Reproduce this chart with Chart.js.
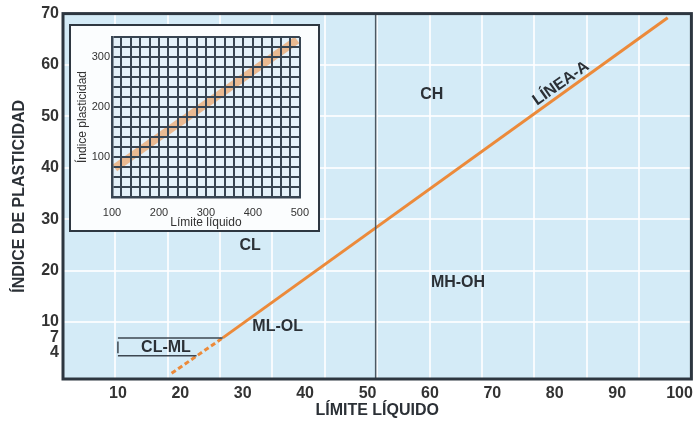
<!DOCTYPE html>
<html>
<head>
<meta charset="utf-8">
<script src="https://cdn.jsdelivr.net/npm/chart.js@4.4.0/dist/chart.umd.min.js"></script>
<style>
  html, body { margin: 0; padding: 0; background: #fff; }
  #contenedor { position: relative; width: 698px; height: 425px; }
  #grafico_plasticidad { position: absolute; left: 0; top: 0; }
  #recuadro { position: absolute; left: 69px; top: 24px; width: 251px; height: 208px;
              box-sizing: border-box; border: 2px solid #2e3741; background: #fbfdfe; }
  #recuadro canvas { position: absolute; left: 0; top: 0; }
</style>
</head>
<body>
<div id="contenedor">
  <canvas id="grafico_plasticidad" width="698" height="425"></canvas>
  <div id="recuadro"><canvas id="grafico_recuadro" width="247" height="204"></canvas></div>
</div>
<script>
// Carta de plasticidad
const ticksLL = [10, 20, 30, 40, 50, 60, 70, 80, 90, 100]
const ticksIP = [4, 7, 10, 20, 30, 40, 50, 60, 70]

// linea A (tramo punteado y tramo continuo)
const lineaAPunteadaLL = [18.6, 26.8]
const lineaAPunteadaIP = [0, 6.9]
const lineaALL = [26.8, 98.1]
const lineaAIP = [6.9, 69.2]

// limite liquido 50 (linea vertical)
const limiteLL = [51.3, 51.3]
const limiteIP = [-1.1, 70]

// zona CL-ML
const clmlSuperiorLL = [10, 26.8]
const clmlSuperiorIP = [6.9, 6.9]
const clmlInferiorLL = [10, 22.6]
const clmlInferiorIP = [3.4, 3.4]
const clmlLadoLL = [10, 10]
const clmlLadoIP = [6.2, 3.9]

// nombres de las zonas
const zonas = ["CL-ML", "ML-OL", "CL", "CH", "MH-OH", "LÍNEA-A"]
const zonasLL = [17.7, 35.6, 31.2, 60.3, 64.5, 81]
const zonasIP = [5.0, 9.0, 24.8, 54.3, 17.6, 56.4]

// recuadro
const recuadroLL = [106, 494]
const recuadroIP = [78, 334]

const fuente = '"Liberation Sans", Arial, sans-serif'
const aPuntos = (xs, ys) => xs.map((v, i) => ({ x: v, y: ys[i] }))

const linea = (xs, ys, color, ancho, guiones) => ({
    data: aPuntos(xs, ys),
    showLine: true,
    borderColor: color,
    borderWidth: ancho,
    borderDash: guiones || [],
    pointRadius: 0,
    fill: false
})

const fondoYMarco = {
    id: 'fondoYMarco',
    beforeDraw(chart) {
        const { ctx, chartArea: a } = chart
        ctx.save()
        ctx.fillStyle = '#d4ebf7'
        ctx.fillRect(a.left, a.top, a.right - a.left, a.bottom - a.top)
        ctx.restore()
    },
    afterDraw(chart) {
        const { ctx, chartArea: a, scales: { x, y } } = chart
        ctx.save()
        ctx.font = 'bold 16px ' + fuente
        ctx.fillStyle = '#2b3036'
        ctx.textAlign = 'center'
        ctx.textBaseline = 'middle'
        for (let i = 0; i < zonas.length; i++) {
            ctx.save()
            ctx.translate(x.getPixelForValue(zonasLL[i]), y.getPixelForValue(zonasIP[i]))
            if (zonas[i] === "LÍNEA-A") ctx.rotate(-35 * Math.PI / 180)
            ctx.fillText(zonas[i], 0, 0)
            ctx.restore()
        }
        ctx.strokeStyle = '#2d3640'
        ctx.lineWidth = 3
        ctx.strokeRect(a.left, a.top, a.right - a.left, a.bottom - a.top)
        ctx.restore()
    }
}

const criarGraficoPrincipal = () => {
    const ctx = document.querySelector("#grafico_plasticidad")
    const gris = 'rgba(255,255,255,0.8)'
    new Chart(ctx, {
        type: 'scatter',
        data: {
            datasets: [
                linea(limiteLL, limiteIP, '#4b5863', 1.5),
                linea(clmlSuperiorLL, clmlSuperiorIP, '#3d4751', 1.5),
                linea(clmlInferiorLL, clmlInferiorIP, '#3d4751', 1.5),
                linea(clmlLadoLL, clmlLadoIP, '#3d4751', 1.5),
                linea(lineaAPunteadaLL, lineaAPunteadaIP, '#ec8a3a', 3, [5, 3]),
                linea(lineaALL, lineaAIP, '#ec8a3a', 3)
            ]
        },
        options: {
            responsive: false,
            animation: false,
            layout: { padding: { top: 13, right: 6, left: 0, bottom: 0 } },
            plugins: { legend: { display: false }, tooltip: { enabled: false } },
            scales: {
                x: {
                    type: 'linear', min: 1.2, max: 101.9,
                    afterBuildTicks: s => { s.ticks = ticksLL.map(v => ({ value: v })) },
                    grid: { display: false, drawTicks: false },
                    border: { display: false },
                    ticks: { font: { size: 16, weight: 'bold', family: fuente }, color: '#333', padding: 5, maxRotation: 0, autoSkip: false },
                    title: { display: true, text: 'LÍMITE LÍQUIDO', color: '#2b3036',
                             font: { size: 16, weight: 'bold', family: fuente }, padding: { top: 0, bottom: 5 } },
                    afterFit: s => { s.height = 46 }
                },
                xg: {
                    type: 'linear', axis: 'x', position: 'bottom', min: -1, max: 11,
                    ticks: { display: false, stepSize: 1 },
                    grid: { color: gris, lineWidth: 2, drawTicks: false },
                    border: { display: false },
                    afterFit: s => { s.height = 0 }
                },
                y: {
                    type: 'linear', min: -1.1, max: 70,
                    afterBuildTicks: s => { s.ticks = ticksIP.map(v => ({ value: v })) },
                    grid: { color: c => [4, 7, 70].includes(c.tick.value) ? 'transparent' : gris, lineWidth: 2, drawTicks: false },
                    border: { display: false },
                    ticks: { font: { size: 16, weight: 'bold', family: fuente }, color: '#333', padding: 4, autoSkip: false },
                    title: { display: true, text: 'ÍNDICE DE PLASTICIDAD', color: '#2b3036',
                             font: { size: 16, weight: 'bold', family: fuente }, padding: { top: 10, bottom: 0 } },
                    afterFit: s => { s.width = 63 }
                }
            }
        },
        plugins: [fondoYMarco]
    })
}

const criarGraficoRecuadro = () => {
    const ctx = document.querySelector("#grafico_recuadro")
    const rejilla = '#384552'
    const letra = { size: 11, family: fuente }
    const letraTitulo = { size: 12, family: fuente }
    new Chart(ctx, {
        type: 'scatter',
        data: {
            datasets: [linea(recuadroLL, recuadroIP, 'rgba(238,140,60,0.55)', 8)]
        },
        options: {
            responsive: false,
            animation: false,
            layout: { padding: { top: 11, right: 10, left: 0, bottom: 0 } },
            plugins: { legend: { display: false }, tooltip: { enabled: false } },
            scales: {
                x: {
                    type: 'linear', min: 100, max: 500,
                    ticks: { stepSize: 20, callback: v => v % 100 === 0 ? v : '', font: letra, color: '#333', padding: 9, maxRotation: 0, autoSkip: false },
                    grid: { color: rejilla, lineWidth: 2, z: 1, drawTicks: false },
                    border: { color: rejilla, width: 2.5, z: 1 },
                    title: { display: true, text: 'Límite líquido', font: letraTitulo, color: '#333', padding: { top: 0, bottom: 0 } },
                    afterFit: s => { s.height = 33 }
                },
                y: {
                    type: 'linear', min: 20, max: 340,
                    ticks: { stepSize: 20, callback: v => v % 100 === 0 ? v : '', font: letra, color: '#333', padding: 2, autoSkip: false },
                    grid: { color: rejilla, lineWidth: 2, z: 1, drawTicks: false },
                    border: { color: rejilla, width: 2.5, z: 1 },
                    title: { display: true, text: 'Índice plasticidad', font: letraTitulo, color: '#333', padding: { top: 4, bottom: 0 } },
                    afterFit: s => { s.width = 41 }
                }
            }
        },
        plugins: [{
            id: 'fondoRecuadro',
            beforeDraw(chart) {
                const { ctx, chartArea: a } = chart
                ctx.save()
                ctx.fillStyle = '#e4f1f9'
                ctx.fillRect(a.left, a.top, a.right - a.left, a.bottom - a.top)
                ctx.restore()
            }
        }]
    })
}

criarGraficoPrincipal()
criarGraficoRecuadro()
</script>
</body>
</html>
